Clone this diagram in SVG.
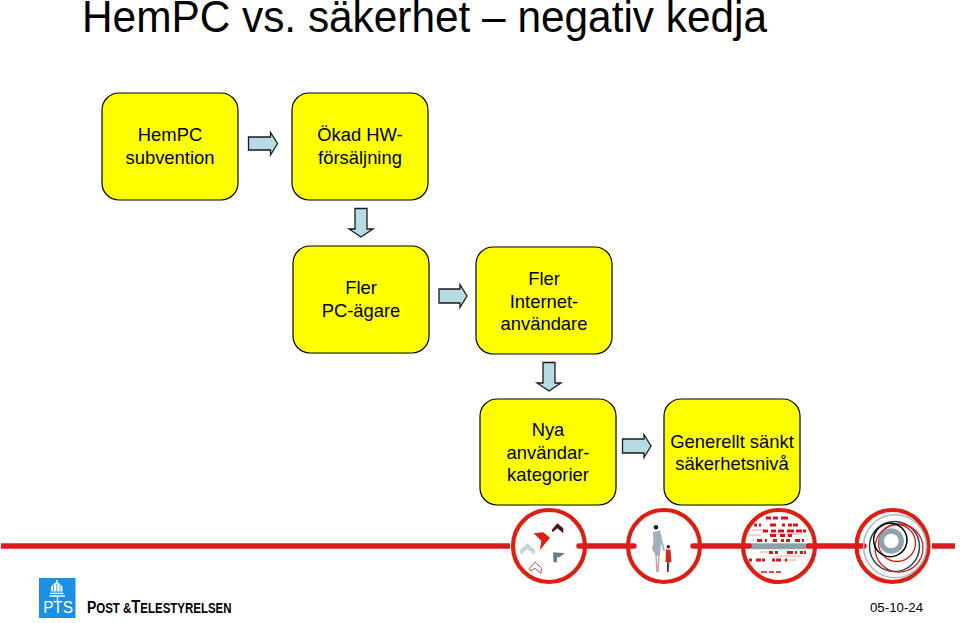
<svg xmlns="http://www.w3.org/2000/svg" width="960" height="623" viewBox="0 0 960 623">
<style>
text{font-family:"Liberation Sans",Arial,sans-serif;fill:#000}
.n rect{fill:#ffff00;stroke:#000;stroke-width:1.2}
.n text{font-size:18.4px;text-anchor:middle}
.a{fill:#b7dbe3;stroke:#1a1a1a;stroke-width:1.3;stroke-linejoin:miter}
.ring{fill:#fff;stroke:#dd1f13;stroke-width:4.2}
.bar{stroke:#dd1a1f;stroke-width:5.5;stroke-linecap:round;fill:none}
.d{stroke:#d8141a;stroke-width:2.8;fill:none}
.p{stroke:#eca0a0;stroke-width:1;fill:none}
</style>
<rect width="960" height="623" fill="#fff"/>
<text id="title" x="82" y="32" style="font-size:45.2px" textLength="685" lengthAdjust="spacingAndGlyphs">HemPC vs. säkerhet – negativ kedja</text>

<g id="connectors">
<path class="a" d="M248.5 137H270.5V132.5L277.5 143.500L270.500 155V150H248.500Z"/>
<path class="a" d="M355 208.500H367V229H373L361 237L349 229H355Z"/>
<path class="a" d="M439 289H460V284.500L467 296L460 307.500V303H439Z"/>
<path class="a" d="M543 362.500H555V383H561L549 391L537 383H543Z"/>
<path class="a" d="M622.500 439H644V434.500L651 446L644 457.500V453H622.500Z"/>
</g>

<g id="node-hempc" class="n"><rect x="102" y="93" width="136" height="107" rx="17"/><text x="170" y="141">HemPC</text><text x="170" y="164">subvention</text></g>
<g id="node-hw" class="n"><rect x="292" y="93" width="136" height="107" rx="17"/><text x="360" y="141">Ökad HW-</text><text x="360" y="164">försäljning</text></g>
<g id="node-pc" class="n"><rect x="293" y="246" width="136" height="107" rx="17"/><text x="361" y="294">Fler</text><text x="361" y="317">PC-ägare</text></g>
<g id="node-internet" class="n"><rect x="476" y="247" width="136" height="107" rx="17"/><text x="544" y="285">Fler</text><text x="544" y="307.500">Internet-</text><text x="544" y="330">användare</text></g>
<g id="node-nya" class="n"><rect x="480" y="399" width="136" height="106" rx="17"/><text x="548" y="436">Nya</text><text x="548" y="458.500">användar-</text><text x="548" y="481">kategorier</text></g>
<g id="node-generellt" class="n"><rect x="664" y="399" width="136" height="106" rx="17"/><text x="732" y="448">Generellt sänkt</text><text x="732" y="470">säkerhetsnivå</text></g>

<g id="band">
<path d="M1 546H510" class="bar" style="stroke-linecap:butt"/>
<circle class="ring" cx="549" cy="546" r="36"/>
<circle class="ring" cx="664" cy="546" r="36"/>
<circle class="ring" cx="779" cy="546" r="36"/>
<circle class="ring" cx="892.500" cy="546" r="36"/>
<path class="bar" d="M579 546H634M693 546H750M808 546H864"/>
<path class="bar" style="stroke-linecap:butt" d="M932 546H955"/>
</g>

<g id="chevrons">
<path fill="#dd1f13" d="M533.700 533.300L543.300 532.300L550 537.700L540 550L541.300 540.700Z"/>
<path fill="#4a1512" d="M551.700 530L557.300 523.300L563.300 528.300V533.300L557.300 528.300L552.700 532.300Z"/>
<path fill="#c5d6da" d="M520 550L527.300 543.300L535 550V555L527.300 549.300L520.700 555Z"/>
<path fill="#5f8088" d="M553.300 552.300L565 553.300L560 556.700L557 557.500L556.700 562.700L553.300 561.700Z"/>
<path fill="#fff" stroke="#c8485a" stroke-width="1" d="M529.300 568.300L535 562.300L541.700 568.300L540.700 573.300L535 568.300L530.700 571Z"/>
</g>

<g id="people">
<circle cx="656" cy="527.300" r="2.300" fill="#2b1512"/>
<path fill="#9fb0bb" d="M653 532L660 530.500L663 543L665 551L663.500 551L661 543L660 555L656 556L652 549L653.500 541Z"/>
<path stroke="#c8a0a8" stroke-width="1.500" fill="none" d="M656 555L657 572M659 555L658 572"/>
<circle cx="668.300" cy="546.700" r="1.700" fill="#2b1512"/>
<path fill="#d42a1e" d="M666 549.500H670.500L671.500 562H665.500Z"/>
<path stroke="#333" stroke-width="1" fill="none" d="M667.500 562L667.500 572M669 562L668 572"/>
</g>

<g id="pattern">
<path class="p" d="M752 530h12M770 534h32M749 535h12M752 540h2M760 552h8M776 556h26M784 560h12M757 572h3"/>
<path class="d" d="M766 518h5M773 518h5M781 518h7M754 525h3M759 525h2M770 525h6M782 525h3M788 525h4M793 525h5M763 531h5M771 531h5M778 531h6M787 531h7M796 531h6M803 531h3M770 535.500h6M780 535.500h5M788 535.500h4M757 540.500h5M765 540.500h2M773 540.500h4M781 540.500h3M786 540.500h4M795 540.500h5M802 540.500h2"/>
<rect x="751.700" y="543.300" width="54" height="5.900" fill="#8fa0a8"/>
<path class="d" d="M769 552.500h4M775 552.500h3M787 552.500h6M795 552.500h2M800 552.500h3M804 552.500h2M749 560h3M756 560h5M762 560h3M772 560h3M776 560h5M785 560h2"/>
<path class="d" style="stroke-width:1.500" d="M761 572h6M769 572h5M776 572h5"/>
</g>

<g id="rings" fill="none">
<circle cx="895" cy="546.300" r="31.500" stroke="#a9bac0" stroke-width="1.500"/>
<circle cx="894.500" cy="546.500" r="25" stroke="#1f4a52" stroke-width="1.500"/>
<circle cx="899" cy="548" r="24" stroke="#d01e1e" stroke-width="1.300"/>
<circle cx="897" cy="543" r="18.500" stroke="#d01e1e" stroke-width="1.300"/>
<circle cx="890.300" cy="540" r="16.700" stroke="#000" stroke-width="1.500"/>
<circle cx="891.300" cy="541" r="10" stroke="#8fa5ad" stroke-width="5.300"/>
</g>

<g id="logo">
<rect x="39" y="578" width="36.500" height="40" fill="#1c8fe6"/>
<path fill="#fff" d="M51 591.500V587Q56.800 578 62.500 587V591.500ZM56 580H57.600V583H56Z"/>
<path fill="none" stroke="#1c8fe6" stroke-width=".8" d="M53.500 591.500V584.500M56.800 591.500V584M60 591.500V584.500"/>
<path fill="none" stroke="#fff" stroke-width="1.300" d="M50 593.300H63.500M49.500 596H65M57.500 596V601"/>
<text transform="translate(58 613) scale(.9 1)" style="font-size:17px;fill:#fff;text-anchor:middle">PTS</text>
<text transform="translate(87 613) scale(.82 1)" style="font-size:14px;font-weight:bold"><tspan style="font-size:17px">P</tspan>OST &amp;<tspan style="font-size:18px">T</tspan>ELESTYRELSEN</text>
</g>

<text id="date" x="870" y="612" style="font-size:13.250px">05-10-24</text>
</svg>
